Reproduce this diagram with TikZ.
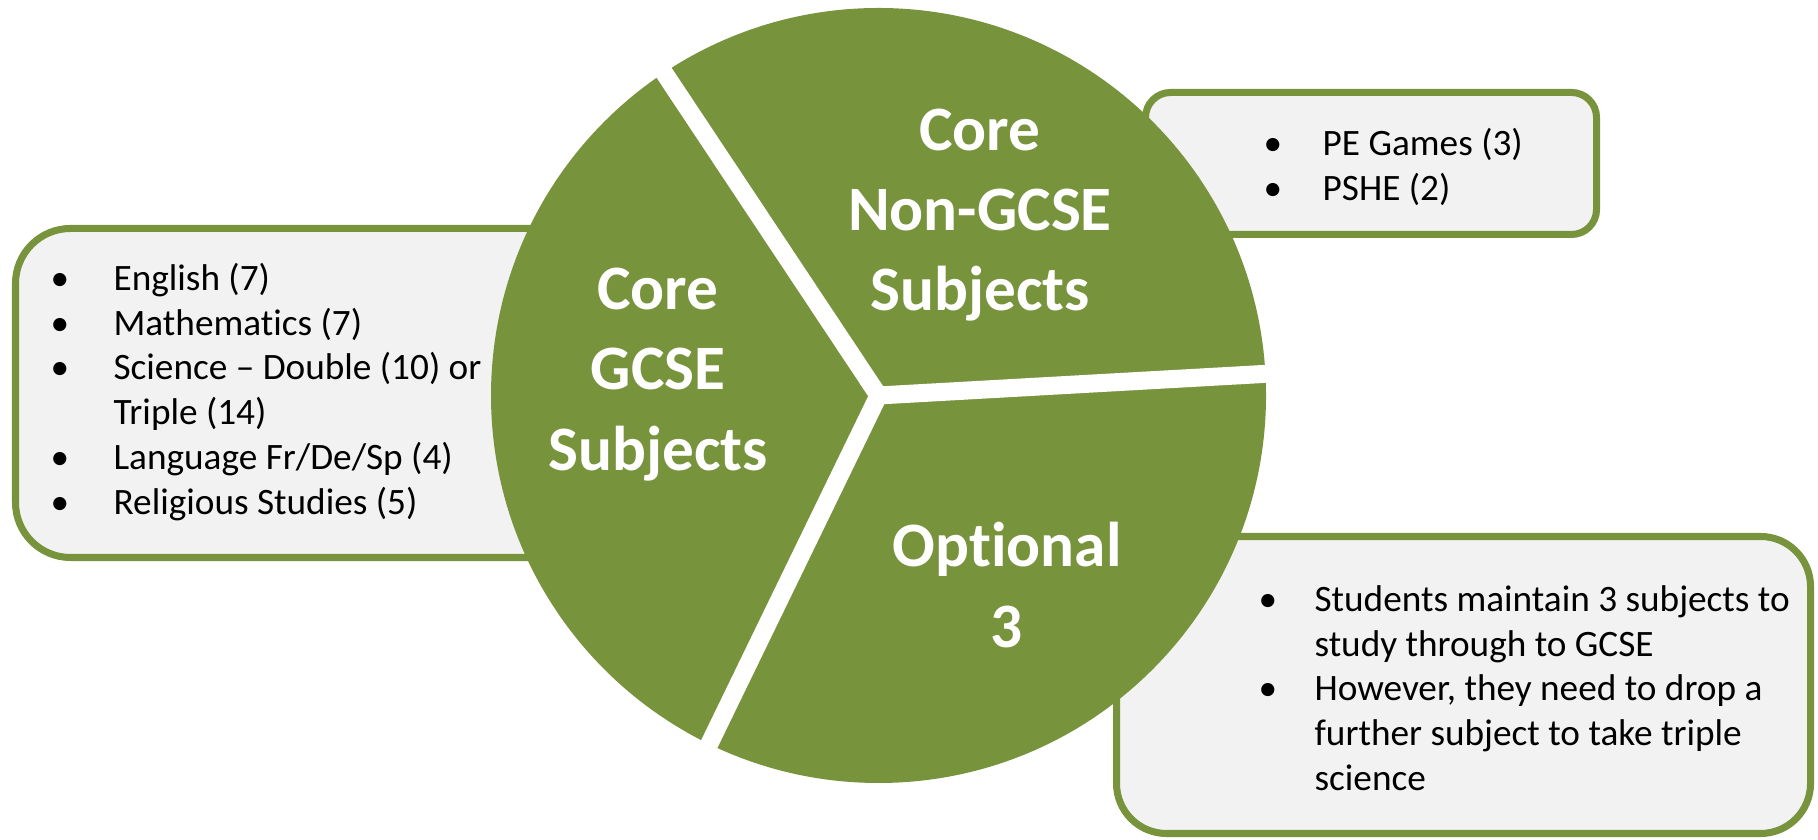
\documentclass[tikz,border=0pt]{standalone}
\usepackage{fontspec}
\setmainfont{Carlito}[Ligatures=NoCommon]
\usepackage{array}
\definecolor{pgreen}{HTML}{77933C}
\definecolor{pbox}{HTML}{F2F2F2}
\tikzset{
  listbox/.style={draw=pgreen, fill=pbox, line width=2pt},
  listtext/.style={anchor=west, inner sep=0pt, font=\fontsize{10.6}{12.8}\selectfont},
  slicelabel/.style={text=white, align=center, inner sep=0pt, font=\fontsize{18}{22.8}\selectfont\bfseries},
  gapline/.style={white, line width=1.8mm, line cap=butt}
}
\begin{document}
\begin{tikzpicture}[x=0.1mm, y=0.1mm]
\useasboundingbox (0,0) rectangle (1818,840);
% list boxes (drawn first, partly hidden by the pie)
\draw[listbox, rounded corners=5.5mm] (15.5,282.5) rectangle (640,611.5);
\draw[listbox, rounded corners=2.5mm] (1145.5,605.5) rectangle (1596.5,747.5);
\draw[listbox, rounded corners=5mm] (1116.5,6.5) rectangle (1810.5,303.5);
% pie
\coordinate (C) at (878.5,444.5);
\fill[pgreen] (C) circle[radius=387.5];
\draw[gapline] (C) -- +(3.2:392);
\draw[gapline] (C) -- +(123.6:392);
\draw[gapline] (C) -- +(244.1:392);
% slice labels
\node[slicelabel] (gcse) at (658,465.5) {Core\\GCSE\\Subjects};
\node[slicelabel] (nongcse) at (980,625) {Core\\Non-GCSE\\Subjects};
\node[slicelabel] (optional) at (1007,255) {Optional\\3};
% lists
\node[listtext] (gcselist) at (50,446.5) {\begin{tabular}{@{}p{17.9pt}@{}l@{}}
\textbullet & English (7)\\
\textbullet & Mathematics (7)\\
\textbullet & Science – Double (10) or\\
 & Triple (14)\\
\textbullet & Language Fr/De/Sp (4)\\
\textbullet & Religious Studies (5)
\end{tabular}};
\node[listtext] (nonlist) at (1263,671) {\begin{tabular}{@{}p{16.8pt}@{}l@{}}
\textbullet & PE Games (3)\\
\textbullet & PSHE (2)
\end{tabular}};
\node[listtext] (optlist) at (1258,148) {\begin{tabular}{@{}p{15.9pt}@{}l@{}}
\textbullet & Students maintain 3 subjects to\\
 & study through to GCSE\\
\textbullet & However, they need to drop a\\
 & further subject to take triple\\
 & science
\end{tabular}};
\end{tikzpicture}
\end{document}
